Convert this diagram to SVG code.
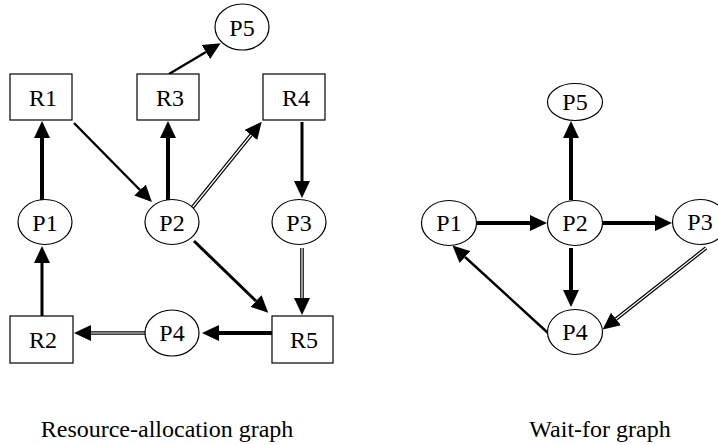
<svg xmlns="http://www.w3.org/2000/svg" width="718" height="445" viewBox="0 0 718 445" font-family="Liberation Serif, Times New Roman, serif" font-size="24" text-anchor="middle">
  <defs>
    <style>
      .node ellipse, .node rect { fill: #fff; stroke: #000; stroke-width: 1.2; }
      .edge { fill: none; stroke: #000; stroke-linecap: butt; }
      .thick { stroke-width: 4; }
      .medium { stroke-width: 3; }
      .thin { stroke-width: 2.4; }
      .dbl { stroke-width: 3.6; }
      .dbl-gap { fill: none; stroke: #fff; stroke-width: 1.2; }
    </style>
    <!-- arrowhead: base sits on the line end, tip 17px further along -->
    <marker id="head" markerUnits="userSpaceOnUse" markerWidth="17" markerHeight="16" refX="0" refY="8" orient="auto" viewBox="0 0 17 16">
      <path d="M0,0 L17,8 L0,16 Z" fill="#000"/>
    </marker>
  </defs>
  <rect width="718" height="445" fill="#fff"/>

  <!-- connectors -->
  <g id="connectors">
    <!-- resource-allocation graph -->
    <line class="edge thick" x1="42" y1="200" x2="42" y2="138" marker-end="url(#head)"/>
    <line class="edge medium" x1="42" y1="316" x2="42" y2="263" marker-end="url(#head)"/>
    <line class="edge thin" x1="74" y1="123" x2="140" y2="190" marker-end="url(#head)"/>
    <line class="edge thick" x1="168" y1="200" x2="168" y2="138" marker-end="url(#head)"/>
    <line class="edge thin" x1="169" y1="74" x2="206" y2="52" marker-end="url(#head)"/>
    <line class="edge dbl" x1="192" y1="208" x2="251" y2="135" marker-end="url(#head)"/>
    <line class="dbl-gap" x1="192" y1="208" x2="251" y2="135"/>
    <line class="edge medium" x1="302" y1="122" x2="302" y2="181" marker-end="url(#head)"/>
    <line class="edge medium" x1="194" y1="241" x2="256" y2="301" marker-end="url(#head)"/>
    <line class="edge dbl" x1="302" y1="248" x2="302" y2="298" marker-end="url(#head)"/>
    <line class="dbl-gap" x1="302" y1="248" x2="302" y2="298"/>
    <line class="edge thick" x1="272" y1="333" x2="219" y2="333" marker-end="url(#head)"/>
    <line class="edge dbl" x1="145" y1="333" x2="91" y2="333" marker-end="url(#head)"/>
    <line class="dbl-gap" x1="145" y1="333" x2="91" y2="333"/>

    <!-- wait-for graph -->
    <line class="edge thick" x1="571" y1="200" x2="571" y2="138" marker-end="url(#head)"/>
    <line class="edge thick" x1="477" y1="223" x2="530" y2="223" marker-end="url(#head)"/>
    <line class="edge thick" x1="603" y1="223" x2="655" y2="223" marker-end="url(#head)"/>
    <line class="edge thick" x1="571" y1="248" x2="571" y2="290" marker-end="url(#head)"/>
    <line class="edge thin" x1="548" y1="333" x2="465" y2="257" marker-end="url(#head)"/>
    <line class="edge dbl" x1="706" y1="248" x2="616" y2="319" marker-end="url(#head)"/>
    <line class="dbl-gap" x1="706" y1="248" x2="616" y2="319"/>
  </g>

  <!-- resource-allocation graph nodes -->
  <g id="rag-P5" class="node"><ellipse cx="242" cy="27" rx="27" ry="23"/><text x="242" y="36">P5</text></g>
  <g id="rag-R1" class="node"><rect x="10" y="74" width="62" height="46"/><text x="43" y="106">R1</text></g>
  <g id="rag-R3" class="node"><rect x="137" y="74" width="62" height="46"/><text x="170" y="106">R3</text></g>
  <g id="rag-R4" class="node"><rect x="263" y="74" width="62" height="46"/><text x="296" y="106">R4</text></g>
  <g id="rag-P1" class="node"><ellipse cx="45" cy="222" rx="27" ry="22.5"/><text x="45" y="231">P1</text></g>
  <g id="rag-P2" class="node"><ellipse cx="172" cy="222" rx="27" ry="22.5"/><text x="172" y="231">P2</text></g>
  <g id="rag-P3" class="node"><ellipse cx="299" cy="222" rx="27" ry="22.5"/><text x="299" y="231">P3</text></g>
  <g id="rag-R2" class="node"><rect x="10" y="316" width="63" height="47"/><text x="43" y="348">R2</text></g>
  <g id="rag-P4" class="node"><ellipse cx="172" cy="333" rx="27" ry="23"/><text x="172" y="341">P4</text></g>
  <g id="rag-R5" class="node"><rect x="272" y="316" width="61" height="47"/><text x="304" y="348">R5</text></g>

  <!-- wait-for graph nodes -->
  <g id="wfg-P5" class="node"><ellipse cx="575" cy="102" rx="27.5" ry="18.5"/><text x="575" y="110">P5</text></g>
  <g id="wfg-P1" class="node"><ellipse cx="449" cy="223" rx="27.5" ry="22.5"/><text x="449" y="231">P1</text></g>
  <g id="wfg-P2" class="node"><ellipse cx="575" cy="223" rx="27.5" ry="22.5"/><text x="575" y="231">P2</text></g>
  <g id="wfg-P3" class="node"><ellipse cx="700" cy="222" rx="27.5" ry="22.5"/><text x="700" y="230">P3</text></g>
  <g id="wfg-P4" class="node"><ellipse cx="575" cy="332" rx="27.5" ry="22.5"/><text x="575" y="340">P4</text></g>

  <!-- captions -->
  <text id="caption-rag" x="167" y="437">Resource-allocation graph</text>
  <text id="caption-wfg" x="600" y="437">Wait-for graph</text>
</svg>
